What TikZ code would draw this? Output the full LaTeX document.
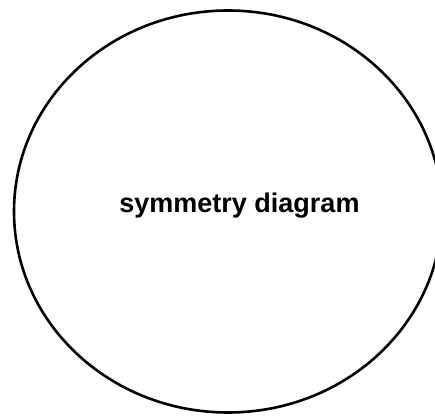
\documentclass[tikz,border=0pt]{standalone}
\usepackage{fontspec}
\setmainfont{Liberation Sans}
\begin{document}
\begin{tikzpicture}[x=1pt,y=1pt,
  outline/.style={draw=black,line width=2.6pt},
  label/.style={font=\fontsize{27}{30}\selectfont\bfseries,inner sep=0pt,anchor=base}]
\useasboundingbox (0,0) rectangle (435,415);
\fill[white] (0,0) rectangle (435,415);
\begin{scope}
\clip (0,0) rectangle (435,415);
\draw[outline] (228,203.5) ellipse [x radius=214, y radius=201];
\end{scope}
\node[label] (t) at (239.5,203) {symmetry diagram};
\end{tikzpicture}
\end{document}
